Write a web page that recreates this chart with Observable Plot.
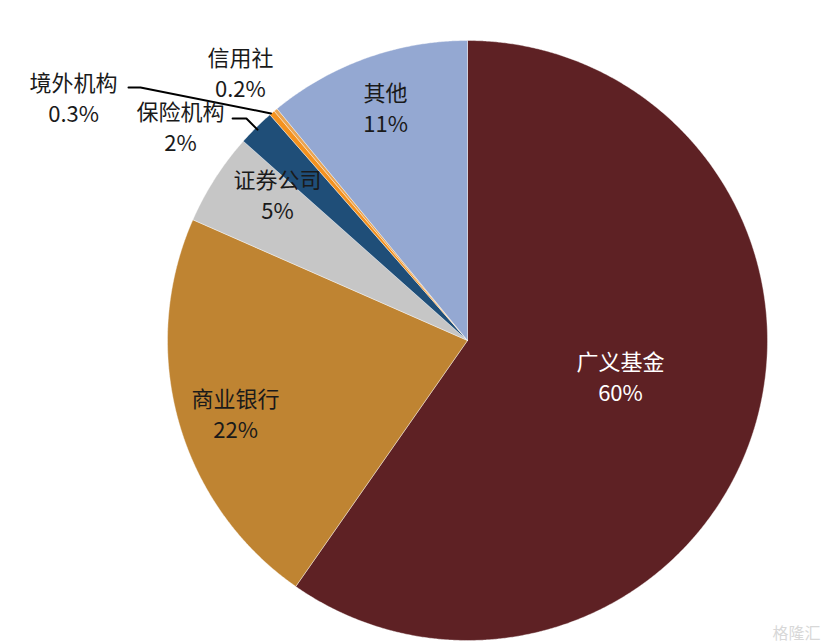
<!DOCTYPE html>
<html><head><meta charset="utf-8">
<script src="https://cdn.jsdelivr.net/npm/d3@7"></script>
<script src="https://cdn.jsdelivr.net/npm/@observablehq/plot@0.6"></script>
<style>body{margin:0;background:#fff}</style>
</head><body><div id="chart"></div>
<script>
const names = ["广义基金","商业银行","证券公司","保险机构","境外机构","信用社","其他"];
const values = [60,22,5,2,0.3,0.2,11];
const pctLabels = ["60%","22%","5%","2%","0.3%","0.2%","11%"];
const colors = ["#5E2124","#BF8432","#C6C6C6","#1F4E78","#F4921F","#E9A452","#94A8D2"];
const textColors = ["#ffffff","#1a1a1a","#1a1a1a","#1a1a1a","#1a1a1a","#1a1a1a","#1a1a1a"];
// label centers in radius units (center of pie = 0,0)
const labelX = [0.51,-0.773,-0.633,-0.957,-1.313,-0.757,-0.273];
const labelY = [-0.117,-0.24,0.49,0.717,0.813,0.897,0.78];
// leader lines for small slices: [name, x, y]
const leaders = [
  ["境外机构",-1.13,0.843],["境外机构",-1.09,0.843],["境外机构",-0.655,0.757],
  ["保险机构",-0.783,0.74],["保险机构",-0.737,0.74],["保险机构",-0.70,0.703]
];

const W = 828, H = 644, cx = 467, cy = 340, R = 300;
const arcs = d3.pie().sort(null).value(d => d)(values);
const poly = [];
arcs.forEach((a, i) => {
  poly.push({name: names[i], x: 0, y: 0});
  const n = Math.max(2, Math.ceil((a.endAngle - a.startAngle) / 0.005));
  for (let k = 0; k <= n; k++) {
    const t = a.startAngle + (a.endAngle - a.startAngle) * k / n;
    poly.push({name: names[i], x: Math.sin(t), y: Math.cos(t)});
  }
  poly.push({name: names[i], x: 0, y: 0});
});
const labels = names.map((n, i) => ({name: n, text: n + "\n" + pctLabels[i], x: labelX[i], y: labelY[i], c: textColors[i]}));
const lead = leaders.map(([name, x, y]) => ({name, x, y}));

const chart = Plot.plot({
  width: W, height: H,
  margin: 0,
  x: {domain: [-cx / R, (W - cx) / R], axis: null},
  y: {domain: [-(H - cy) / R, cy / R], axis: null},
  color: {domain: names, range: colors},
  style: {fontFamily: "'Noto Sans CJK SC', sans-serif", background: "#fff"},
  marks: [
    Plot.line(poly, {x: "x", y: "y", z: "name", fill: "name", stroke: "#fff", strokeWidth: 0.4, curve: "linear"}),
    Plot.line(lead, {x: "x", y: "y", z: "name", stroke: "#000", strokeWidth: 2}),
    Plot.text(labels, {x: "x", y: "y", text: "text", fill: d => d.c, fontSize: 22, lineHeight: 1.4, textAnchor: "middle"}),
    Plot.text(["格隆汇"], {frameAnchor: "bottom-right", dx: -8, dy: -6, fill: "#d8d8d8", fontSize: 16})
  ]
});
document.getElementById("chart").appendChild(chart);
</script>
</body></html>
